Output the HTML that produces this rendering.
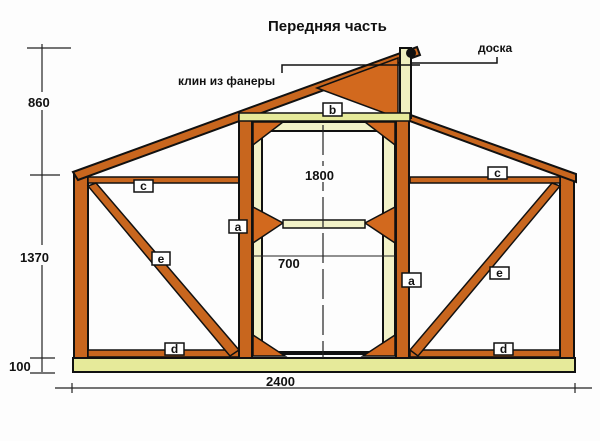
<!DOCTYPE html>
<html><head><meta charset="utf-8"><style>
html,body{margin:0;padding:0;background:#fff;}
svg{display:block;}
text{font-family:"Liberation Sans","DejaVu Sans",sans-serif;font-weight:bold;fill:#111;}
</style></head><body>
<svg width="600" height="441" viewBox="0 0 600 441" xmlns="http://www.w3.org/2000/svg">
<rect width="600" height="441" fill="#fdfdfd"/>
<text x="268" y="31" font-size="15">Передняя часть</text>

<g stroke="#222" stroke-width="1.2">
<line x1="42" y1="44" x2="42" y2="92"/>
<line x1="42" y1="110" x2="42" y2="245"/>
<line x1="42" y1="265" x2="42" y2="372"/>
<line x1="27" y1="48" x2="71" y2="48"/>
<line x1="30" y1="175" x2="60" y2="175"/>
<line x1="30" y1="358" x2="55" y2="358"/>
<line x1="30" y1="373" x2="55" y2="373"/>
<line x1="55" y1="388" x2="592" y2="388"/>
<line x1="72" y1="383" x2="72" y2="393"/>
<line x1="575" y1="383" x2="575" y2="393"/>
</g>
<text x="28" y="107" font-size="13">860</text>
<text x="20" y="262" font-size="13">1370</text>
<text x="9" y="371" font-size="13">100</text>
<text x="266" y="386" font-size="13">2400</text>

<rect x="73" y="358" width="502" height="14" fill="#e6ea9a" stroke="#111" stroke-width="2"/>

<rect x="74" y="175" width="14" height="183" fill="#c8661e" stroke="#111" stroke-width="2"/>
<rect x="560" y="175" width="14" height="183" fill="#c8661e" stroke="#111" stroke-width="2"/>

<rect x="88" y="177" width="151" height="6" fill="#c8661e" stroke="#111" stroke-width="1.5"/>
<rect x="410" y="177" width="150" height="6" fill="#c8661e" stroke="#111" stroke-width="1.5"/>
<rect x="88" y="350" width="151" height="7" fill="#c8661e" stroke="#111" stroke-width="1.5"/>
<rect x="410" y="350" width="150" height="7" fill="#c8661e" stroke="#111" stroke-width="1.5"/>
<polygon points="88,186 96,183 239,350 230,356" fill="#c8661e" stroke="#111" stroke-width="1.5"/>
<polygon points="560,186 552,183 410,350 418,356" fill="#c8661e" stroke="#111" stroke-width="1.5"/>

<polygon points="73,172 417,47 420,55 78,180" fill="#c8661e" stroke="#111" stroke-width="2"/>
<polygon points="405,113 407,120 576,182 576,174" fill="#c8661e" stroke="#111" stroke-width="2"/>
<polygon points="317,88 398,58 398,118" fill="#d2691e" stroke="#111" stroke-width="1.5"/>
<rect x="400" y="48" width="11" height="70" fill="#f0f0c0" stroke="#111" stroke-width="2"/>
<circle cx="411" cy="53" r="5" fill="#111"/>

<rect x="239" y="116" width="13" height="242" fill="#c8661e" stroke="#111" stroke-width="2"/>
<rect x="396" y="116" width="13" height="242" fill="#c8661e" stroke="#111" stroke-width="2"/>
<rect x="239" y="113" width="171" height="8" fill="#e6ea9a" stroke="#111" stroke-width="1.5"/>
<rect x="253" y="122" width="142" height="232" fill="#f2f2c8" stroke="#111" stroke-width="2"/>
<rect x="262" y="131" width="121" height="221" fill="#fdfdfd" stroke="#111" stroke-width="2"/>
<g fill="#d2691e" stroke="#111" stroke-width="1.5">
<polygon points="253,122 283,122 253,145"/>
<polygon points="395,122 365,122 395,145"/>
<polygon points="253,207 283,223 253,243"/>
<polygon points="395,207 365,223 395,243"/>
<polygon points="253,335 285,356 253,356"/>
<polygon points="395,335 363,356 395,356"/>
</g>
<rect x="283" y="220" width="82" height="8" fill="#f2f2c8" stroke="#111" stroke-width="1.5"/>

<line x1="323" y1="125" x2="323" y2="358" stroke="#222" stroke-width="1.2" stroke-dasharray="30,6"/>
<line x1="253" y1="256" x2="395" y2="256" stroke="#222" stroke-width="1"/>
<rect x="304" y="166" width="40" height="16" fill="#fdfdfd"/>
<text x="305" y="180" font-size="13">1800</text>
<text x="278" y="268" font-size="13">700</text>

<polyline points="282,73 282,65 420,65" fill="none" stroke="#111" stroke-width="1.5"/>
<polyline points="497,57 497,63 412,63" fill="none" stroke="#111" stroke-width="1.5"/>
<text x="178" y="85" font-size="12">клин из фанеры</text>
<text x="478" y="52" font-size="12">доска</text>

<g stroke="#111" stroke-width="1.5" fill="#fff">
<rect x="323" y="103" width="19" height="13"/>
<rect x="134" y="180" width="19" height="12"/>
<rect x="488" y="167" width="19" height="12"/>
<rect x="229" y="220" width="18" height="13"/>
<rect x="402" y="273" width="19" height="14"/>
<rect x="152" y="252" width="18" height="13"/>
<rect x="490" y="267" width="19" height="12"/>
<rect x="165" y="343" width="19" height="12"/>
<rect x="494" y="343" width="19" height="12"/>
</g>
<g font-size="12" text-anchor="middle">
<text x="332.5" y="114">b</text>
<text x="143.5" y="190">c</text>
<text x="497.5" y="177">c</text>
<text x="238" y="231">a</text>
<text x="411.5" y="285">a</text>
<text x="161" y="263">e</text>
<text x="499.5" y="277">e</text>
<text x="174.5" y="353">d</text>
<text x="503.5" y="353">d</text>
</g>
</svg>
</body></html>
